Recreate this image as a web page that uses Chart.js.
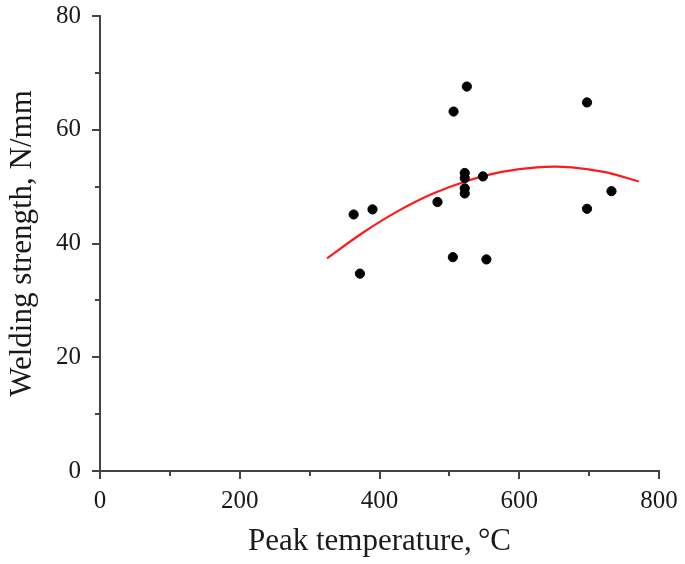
<!DOCTYPE html>
<html>
<head>
<meta charset="utf-8">
<script src="https://cdn.jsdelivr.net/npm/chart.js@4/dist/chart.umd.min.js"></script>
<style>
  html, body { margin: 0; padding: 0; background: #ffffff; }
  #wrap { width: 685px; height: 564px; }
</style>
</head>
<body>
<div id="wrap"><canvas id="c" width="685" height="564"></canvas></div>
<script>
// Measured points: peak temperature (°C) vs welding strength (N/mm)
const peakTemp = [363, 372, 390, 483, 505, 506, 522, 522, 522, 522, 525, 548, 553, 697, 697, 732];
const weldStrength = [45.1, 34.7, 46.0, 47.3, 37.6, 63.2, 52.4, 51.5, 49.7, 48.8, 67.6, 51.8, 37.2, 64.8, 46.1, 49.2];

// Fitted trend curve
const fitTemp = [325, 375, 425, 475, 525, 575, 625, 675, 725, 771];
const fitStrength = [37.4, 41.8, 45.6, 48.7, 51.0, 52.6, 53.4, 53.4, 52.5, 50.9];

// Axis ticks
const xMajorTicks = [0, 200, 400, 600, 800];
const xMinorTicks = [100, 300, 500, 700];
const yMajorTicks = [0, 20, 40, 60, 80];
const yMinorTicks = [10, 30, 50, 70];

const xTitle = 'Peak temperature,\u2009\u00B0C';
const yTitle = 'Welding strength, N/mm';

const FONT = "'Liberation Serif', 'Times New Roman', serif";
const AXIS_COLOR = '#444444';
const TEXT_COLOR = '#1a1a1a';

const scatterData = peakTemp.map((x, i) => ({ x: x, y: weldStrength[i] }));
const fitData = fitTemp.map((x, i) => ({ x: x, y: fitStrength[i] }));

const minorTicks = {
  id: 'minorTicks',
  afterDraw(chart) {
    const ctx = chart.ctx;
    const xs = chart.scales.x, ys = chart.scales.y;
    const area = chart.chartArea;
    ctx.save();
    ctx.strokeStyle = AXIS_COLOR;
    ctx.lineWidth = 2;
    ctx.beginPath();
    xMinorTicks.forEach(v => {
      const px = Math.round(xs.getPixelForValue(v));
      ctx.moveTo(px, area.bottom);
      ctx.lineTo(px, area.bottom + 5);
    });
    yMinorTicks.forEach(v => {
      const py = Math.round(ys.getPixelForValue(v));
      ctx.moveTo(area.left, py);
      ctx.lineTo(area.left - 5, py);
    });
    ctx.stroke();
    ctx.restore();
  }
};

new Chart(document.getElementById('c'), {
  type: 'scatter',
  data: {
    datasets: [
      {
        label: 'Fit',
        type: 'line',
        data: fitData,
        borderColor: '#ff1a1a',
        borderWidth: 2.2,
        pointRadius: 0,
        tension: 0.3,
        fill: false,
        order: 2
      },
      {
        label: 'Measured',
        data: scatterData,
        backgroundColor: '#000000',
        borderColor: '#000000',
        pointRadius: 4.6,
        pointHoverRadius: 4.6,
        order: 1
      }
    ]
  },
  options: {
    responsive: false,
    animation: false,
    layout: { padding: { top: 16, right: 26, left: 0, bottom: 0 } },
    plugins: {
      legend: { display: false },
      tooltip: { enabled: false }
    },
    scales: {
      x: {
        type: 'linear',
        min: 0, max: 800,
        afterBuildTicks(scale) { scale.ticks = xMajorTicks.map(v => ({ value: v })); },
        afterFit(scale) { scale.height = 93; scale.paddingLeft = 0; scale.paddingRight = 0; },
        border: { display: true, color: AXIS_COLOR, width: 2 },
        grid: { drawOnChartArea: false, drawTicks: true, tickLength: 8, color: AXIS_COLOR, lineWidth: 2 },
        ticks: { color: TEXT_COLOR, font: { family: FONT, size: 25 }, padding: 7, maxRotation: 0 },
        title: { display: true, text: xTitle, color: TEXT_COLOR, font: { family: FONT, size: 31 }, padding: { top: 11 } }
      },
      y: {
        type: 'linear',
        min: 0, max: 80,
        afterBuildTicks(scale) { scale.ticks = yMajorTicks.map(v => ({ value: v })); },
        afterFit(scale) { scale.width = 100; scale.paddingTop = 0; scale.paddingBottom = 0; },
        border: { display: true, color: AXIS_COLOR, width: 2 },
        grid: { drawOnChartArea: false, drawTicks: true, tickLength: 8, color: AXIS_COLOR, lineWidth: 2 },
        ticks: { color: TEXT_COLOR, font: { family: FONT, size: 25 }, padding: 11 },
        title: { display: true, text: yTitle, color: TEXT_COLOR, font: { family: FONT, size: 31 }, padding: { bottom: 0 } }
      }
    }
  },
  plugins: [minorTicks]
});
</script>
</body>
</html>
